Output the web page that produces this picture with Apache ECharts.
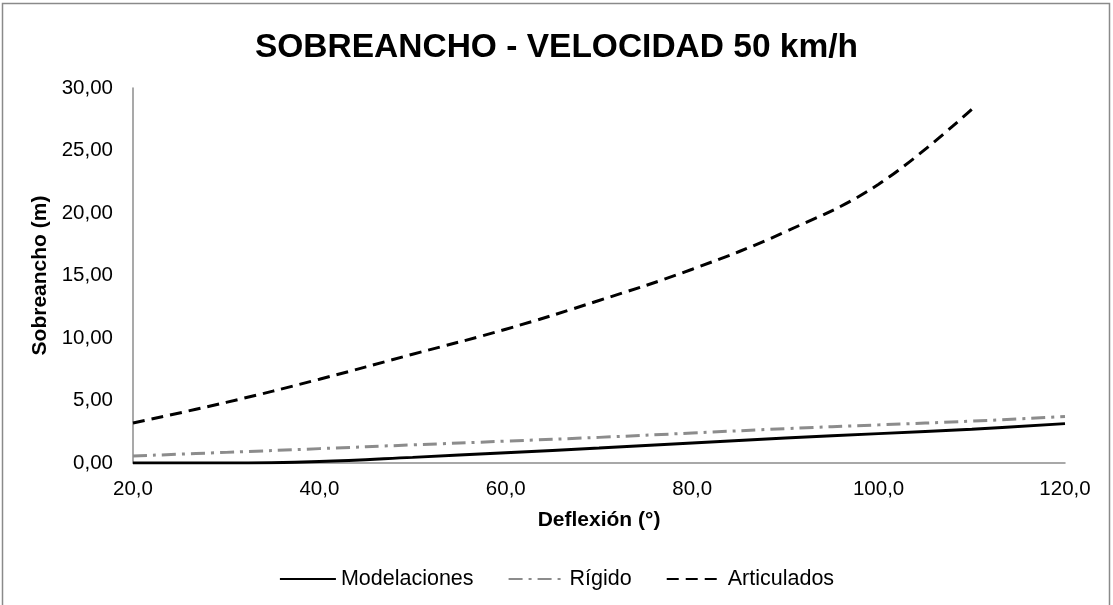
<!DOCTYPE html>
<html>
<head>
<meta charset="utf-8">
<script src="https://cdn.jsdelivr.net/npm/echarts@6/dist/echarts.min.js"></script>
<style>
html,body{margin:0;padding:0;background:#fff;}
#chart{width:1113px;height:605px;}
</style>
</head>
<body>
<div id="chart"></div>
<script>
const titleText = 'SOBREANCHO - VELOCIDAD 50 km/h';
const xAxisName = 'Deflexión (°)';
const yAxisName = 'Sobreancho (m)';
const seriesNames = ['Modelaciones', 'Rígido', 'Articulados'];

const modelacionesX = [20, 30, 40, 50, 60, 70, 80, 90, 100, 110, 120];
const modelacionesY = [0.00, 0.00, 0.12, 0.45, 0.82, 1.20, 1.60, 2.00, 2.35, 2.70, 3.15];

const rigidoX = [20, 30, 40, 50, 60, 70, 80, 90, 100, 110, 120];
const rigidoY = [0.56, 0.85, 1.15, 1.45, 1.75, 2.05, 2.40, 2.75, 3.05, 3.35, 3.72];

const articuladosX = [20, 30, 40, 50, 60, 70, 80, 90, 100, 110];
const articuladosY = [3.20, 4.85, 6.70, 8.70, 10.70, 13.00, 15.50, 18.50, 22.30, 28.30];

function pairs(xs, ys) { return xs.map((x, i) => [x, ys[i]]); }

const chart = echarts.init(document.getElementById('chart'));
const font = 'Liberation Sans, Arial, sans-serif';
chart.setOption({
  animation: false,
  backgroundColor: '#fff',
  graphic: [{
    type: 'rect',
    shape: { x: 2.5, y: 3.5, width: 1107, height: 640 },
    style: { fill: 'none', stroke: '#8a8a8a', lineWidth: 1.5 },
    silent: true
  }],
  title: {
    text: titleText,
    left: 'center',
    top: 26,
    textStyle: { fontFamily: font, fontSize: 33.5, fontWeight: 'bold', color: '#000' }
  },
  legend: {
    bottom: 10,
    left: 'center',
    itemWidth: 56,
    itemHeight: 10,
    itemGap: 34,
    itemStyle: { opacity: 0 },
    textStyle: { fontFamily: font, fontSize: 21.5, color: '#000' },
    data: seriesNames
  },
  grid: { left: 133, right: 48, top: 88, bottom: 142, containLabel: false },
  xAxis: {
    type: 'value',
    min: 20, max: 120, interval: 20,
    name: xAxisName,
    nameLocation: 'middle',
    nameGap: 47,
    nameTextStyle: { fontFamily: font, fontSize: 21, fontWeight: 'bold', color: '#000' },
    axisLine: { lineStyle: { color: '#8c8c8c', width: 1.5 } },
    axisTick: { show: false },
    splitLine: { show: false },
    axisLabel: {
      margin: 16,
      fontFamily: font, fontSize: 20.5, color: '#000',
      formatter: v => v.toFixed(1).replace('.', ',')
    }
  },
  yAxis: {
    type: 'value',
    min: 0, max: 30, interval: 5,
    name: yAxisName,
    nameLocation: 'middle',
    nameGap: 82,
    nameTextStyle: { fontFamily: font, fontSize: 21, fontWeight: 'bold', color: '#000' },
    axisLine: { show: true, lineStyle: { color: '#8c8c8c', width: 1.5 } },
    axisTick: { show: false },
    splitLine: { show: false },
    axisLabel: {
      margin: 20,
      fontFamily: font, fontSize: 20.5, color: '#000',
      formatter: v => v.toFixed(2).replace('.', ',')
    }
  },
  series: [
    {
      name: seriesNames[0], type: 'line', smooth: 0.4, symbol: 'none',
      data: pairs(modelacionesX, modelacionesY),
      lineStyle: { color: '#000', width: 3, type: 'solid' },
      itemStyle: { color: '#000' }
    },
    {
      name: seriesNames[1], type: 'line', smooth: 0.4, symbol: 'none',
      data: pairs(rigidoX, rigidoY),
      lineStyle: { color: '#8c8c8c', width: 3, type: [14, 6, 3, 6] },
      itemStyle: { color: '#8c8c8c' }
    },
    {
      name: seriesNames[2], type: 'line', smooth: 0.4, symbol: 'none',
      data: pairs(articuladosX, articuladosY),
      lineStyle: { color: '#000', width: 3, type: [12, 7] },
      itemStyle: { color: '#000' }
    }
  ]
});
</script>
</body>
</html>
